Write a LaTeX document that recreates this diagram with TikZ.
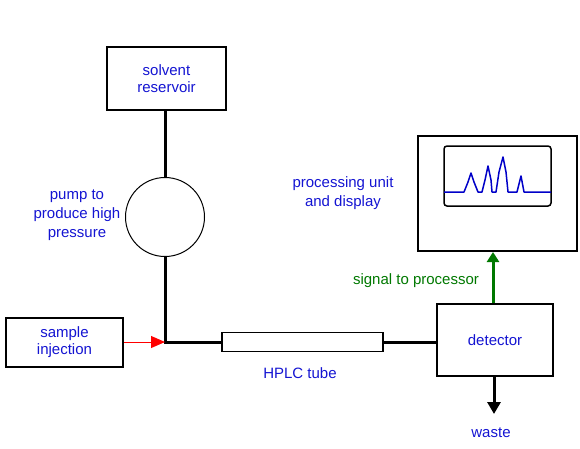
\documentclass[tikz,border=0pt]{standalone}
\usepackage{fontspec}
\setmainfont{Liberation Sans}
\usetikzlibrary{arrows.meta}
\definecolor{txtblue}{RGB}{20,20,210}
\definecolor{sigblue}{RGB}{0,0,200}
\definecolor{sigreen}{RGB}{0,120,0}
\begin{document}
\begin{tikzpicture}[x=1pt,y=-1pt,
  box/.style={draw=black,line width=2pt,fill=white,inner sep=0pt,font=\fontsize{15}{17}\selectfont,text=txtblue,align=center},
  lbl/.style={font=\fontsize{15}{19}\selectfont,text=txtblue,align=center,inner sep=0pt},
  pipe/.style={line width=3pt,black}]
\useasboundingbox (0,0) rectangle (580,448);
% nodes
\node[box,minimum width=119pt,minimum height=63pt] (res) at (166.5,78.5) {solvent\\reservoir};
\node[draw=black,line width=1pt,circle,minimum size=79pt,inner sep=0pt] (pump) at (165,217) {};
\node[box,minimum width=117pt,minimum height=49pt] (inj) at (64.5,342.5) {sample\\injection};
\coordinate (junc) at (165,342);
\node[draw=black,line width=1.5pt,fill=white,minimum width=161pt,minimum height=19pt,inner sep=0pt] (tube) at (302.5,342) {};
\node[box,minimum width=116pt,minimum height=72pt] (det) at (495,340) {detector};
\node[box,minimum width=159pt,minimum height=115pt] (proc) at (497.5,193.5) {};
\node[draw=black,line width=1.5pt,rounded corners=3pt,minimum width=107pt,minimum height=60pt,inner sep=0pt] (disp) at (497.5,176) {};
\coordinate (wasteend) at (494,414);
% labels
\node[lbl] (pumplbl) at (77,215) {pump to\\produce high\\pressure};
\node[lbl] (proclbl) at (343,193) {processing unit\\and display};
\node[lbl] (tubelbl) at (300,373) {HPLC tube};
\node[lbl] (wastelbl) at (491,433) {waste};
\node[lbl,text=sigreen] (siglbl) at (416,281) {signal to processor};
% connectors
\draw[pipe] (res.south -| pump.north) -- (pump.north);
\draw[pipe] (pump.south) -- (junc) -- (tube.west);
\draw[pipe] (tube.east) -- (tube.east -| det.west);
\draw[red,line width=1pt,-{Triangle[length=14pt,width=12pt]}] (inj.east |- junc) -- (junc);
\draw[sigreen,line width=3pt,-{Triangle[length=10pt,width=12pt]}] (det.north -| 493,0) -- (proc.south -| 493,0);
\draw[black,line width=3pt,-{Triangle[length=12pt,width=13pt]}] (det.south -| wasteend) -- (wasteend);
% chromatogram
\draw[sigblue,line width=1.5pt,line join=round]
  (444,192) -- (464,192) -- (468,182) -- (471,173) -- (474,182) -- (478,192) -- (482,192)
  -- (485,180) -- (488,166) -- (491,180) -- (492,192) -- (496,192)
  -- (499,172) -- (503,157) -- (506,172) -- (508,192) -- (517,192)
  -- (521,176) -- (524,192) -- (551,192);
\end{tikzpicture}
\end{document}
